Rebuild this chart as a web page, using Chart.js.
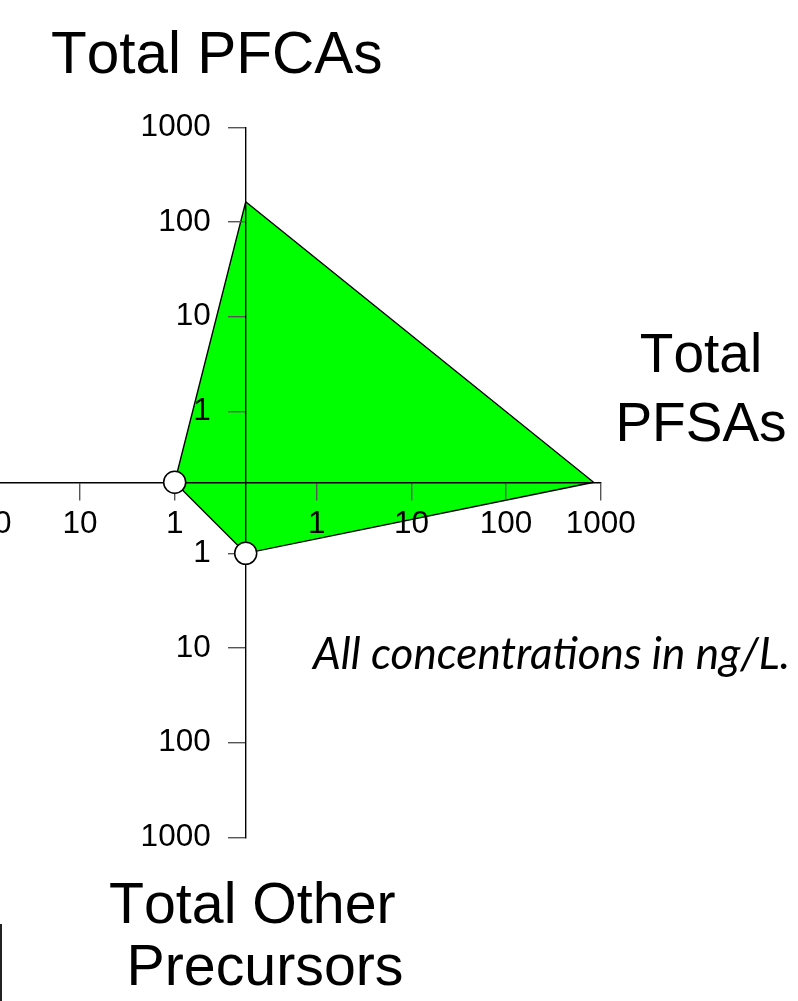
<!DOCTYPE html>
<html>
<head>
<meta charset="utf-8">
<script src="https://cdn.jsdelivr.net/npm/chart.js@4.4.1/dist/chart.umd.min.js"></script>
<style>
  html, body { margin:0; padding:0; background:#fff; width:798px; height:1001px; overflow:hidden; position:relative; }
  #wrap { position:absolute; left:-300px; top:0; width:1100px; height:1001px; }
  .t { position:absolute; font-family:'Liberation Sans', Arial, sans-serif; color:#000; white-space:nowrap; line-height:1; font-kerning:none; }
  #note { position:absolute; font-family:Lato, 'Open Sans', sans-serif; font-style:italic; color:#000; white-space:nowrap; line-height:1; }
  #frag { position:absolute; left:0; top:924px; width:2px; height:77px; background:#222; }
</style>
</head>
<body>
<div id="wrap"><canvas id="c" width="1100" height="1001"></canvas></div>
<div class="t" style="left:51px; top:24.2px; font-size:58.5px;">Total PFCAs</div>
<div class="t" style="left:601px; width:200px; text-align:center; top:326.4px; font-size:55px;">Total</div>
<div class="t" style="left:601px; width:200px; text-align:center; top:395.4px; font-size:55px;">PFSAs</div>
<div class="t" style="left:109px; top:874.8px; font-size:57.3px;">Total Other</div>
<div class="t" style="left:126.5px; top:936.5px; font-size:57.3px;">Precursors</div>
<div id="note" style="left:313px; top:630px; font-size:40px;">All concentrations in ng/L.</div>
<div id="frag"></div>
<script>
// ---- data ----
const tickLabelValues = [1, 10, 100, 1000];          // labels on every arm
const axisDirections  = ['up', 'right', 'down', 'left'];
const axisValues      = [163, 840, 1, 1];            // PFCAs, PFSAs, Other Precursors, left arm (title cropped)
const openCircleFlags = [false, false, true, true];  // vertices marked with open circles

// ---- scale transform (log distance from the centre) ----
const DECADE_OFFSET = 0.75;
const dist = v => Math.log10(v) + DECADE_OFFSET;
const DIRS = { up:[0,1], right:[1,0], down:[0,-1], left:[-1,0] };
const vertex = (d, v) => ({ x: DIRS[d][0] * dist(v), y: DIRS[d][1] * dist(v) });

const polygon = axisDirections.map((d, i) => vertex(d, axisValues[i]));
polygon.push(polygon[0]);
const circles = axisDirections.map((d, i) => openCircleFlags[i] ? vertex(d, axisValues[i]) : null).filter(Boolean);

const tickPos  = [...tickLabelValues.slice().reverse().map(v => -dist(v)), ...tickLabelValues.map(dist)];
const tickText = [...tickLabelValues.slice().reverse(), ...tickLabelValues].map(String);
const R = dist(tickLabelValues[tickLabelValues.length - 1]);

const FONT = "'Liberation Sans', Arial, sans-serif";
function axisOpts(pad) {
  return {
    type: 'linear', position: 'center', min: -R, max: R,
    afterBuildTicks: s => { s.ticks = tickPos.map(v => ({ value: v })); },
    ticks: { autoSkip: false, maxRotation: 0, minRotation: 0, padding: pad,
             font: { family: FONT, size: 31.5 }, color: '#000',
             callback: (v, i) => tickText[i], z: 1 },
    grid: { drawOnChartArea: false, drawTicks: true, tickLength: 17, color: '#555', lineWidth: 1.4, z: 1 },
    border: { display: true, color: '#000', width: 1.4, z: 1 }
  };
}

const onTop = {
  id: 'onTop',
  beforeDatasetDraw(chart, args) { if (chart.data.datasets[args.index].drawOnTop) return false; },
  afterDraw(chart) {
    chart.data.datasets.forEach((ds, i) => { if (ds.drawOnTop) chart.getDatasetMeta(i).controller.draw(); });
  }
};

new Chart(document.getElementById('c'), {
  type: 'scatter',
  data: {
    datasets: [
      { data: polygon, showLine: true, fill: 'shape', tension: 0,
        backgroundColor: '#00ff00', borderColor: '#000', borderWidth: 1.4,
        pointRadius: 0, clip: false },
      { data: circles, showLine: false, drawOnTop: true,
        pointRadius: 11, pointBackgroundColor: '#fff', pointBorderColor: '#000',
        pointBorderWidth: 1.5, clip: false }
    ]
  },
  options: {
    responsive: false, animation: false, events: [], devicePixelRatio: 1,
    layout: { padding: { left: 190.6, right: 199.2, top: 127.2, bottom: 163.6 } },
    plugins: { legend: { display: false }, tooltip: { enabled: false } },
    scales: { x: axisOpts(6), y: axisOpts(18) }
  },
  plugins: [onTop]
});

// fit the italic note to the reference width
const note = document.getElementById('note');
const w = note.getBoundingClientRect().width;
note.style.fontSize = (40 * 477 / w) + 'px';
</script>
</body>
</html>
